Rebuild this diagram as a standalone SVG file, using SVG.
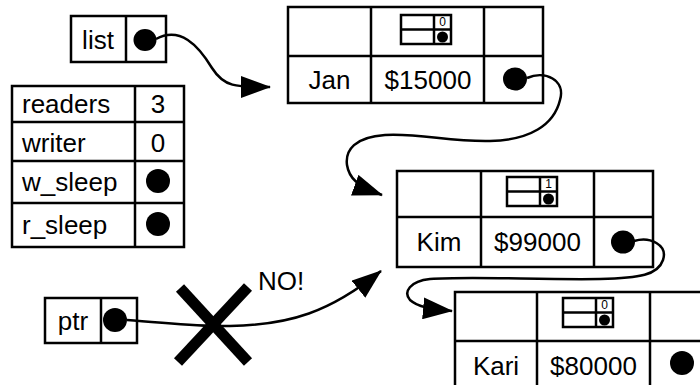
<svg xmlns="http://www.w3.org/2000/svg" width="700" height="385" viewBox="0 0 700 385">
<style>
.box{fill:#fff;stroke:#000;stroke-width:2.5}
.ln{stroke:#000;stroke-width:2.5;fill:none}
.t{font-family:"Liberation Sans",Arial,sans-serif;font-size:26px;fill:#000}
.c{text-anchor:middle}
.s{font-family:"Liberation Sans",Arial,sans-serif;font-size:12px;fill:#000;text-anchor:middle}
.dot{fill:#000}
.ic{fill:#fff;stroke:#000;stroke-width:2.5}
.conn{fill:none;stroke:#000;stroke-width:2.5;marker-end:url(#ah)}
.x{stroke:#000;stroke-width:11;fill:none}
</style>
<defs>
<marker id="ah" markerUnits="userSpaceOnUse" markerWidth="30" markerHeight="22" refX="29" refY="11" orient="auto" viewBox="0 0 30 22">
<path d="M0,0 L30,11 L0,22 Z" fill="#000"/>
</marker>
<g id="lockicon">
<rect class="ic" x="0" y="0" width="50" height="29"/>
<line class="ln" x1="0" y1="14.5" x2="50" y2="14.5"/>
<line class="ln" x1="33" y1="0" x2="33" y2="29"/>
<circle class="dot" cx="41.5" cy="22" r="5.5"/>
</g>
</defs>

<g id="list">
<rect class="box" x="71" y="16" width="95" height="46"/>
<line class="ln" x1="126" y1="16" x2="126" y2="62"/>
<text class="t c" x="98" y="49">list</text>
<ellipse class="dot" cx="145" cy="40" rx="11.5" ry="11"/>
</g>

<g id="rwlock">
<rect class="box" x="12" y="86" width="172" height="161" stroke-width="3"/>
<line class="ln" x1="12" y1="122" x2="184" y2="122"/>
<line class="ln" x1="12" y1="161" x2="184" y2="161"/>
<line class="ln" x1="12" y1="203" x2="184" y2="203"/>
<line class="ln" x1="135" y1="86" x2="135" y2="247"/>
<text class="t" x="22" y="113">readers</text>
<text class="t c" x="158" y="113">3</text>
<text class="t" x="22" y="152">writer</text>
<text class="t c" x="158" y="152">0</text>
<text class="t" x="22" y="191">w_sleep</text>
<ellipse class="dot" cx="158" cy="181" rx="12" ry="12"/>
<text class="t" x="22" y="234">r_sleep</text>
<ellipse class="dot" cx="158" cy="224" rx="12" ry="12"/>
</g>

<g id="jan">
<rect class="box" x="288" y="7" width="255" height="96"/>
<line class="ln" x1="288" y1="56" x2="543" y2="56"/>
<line class="ln" x1="371" y1="7" x2="371" y2="103"/>
<line class="ln" x1="484" y1="7" x2="484" y2="103"/>
<use href="#lockicon" x="401" y="15"/>
<text class="s" x="442.5" y="26">0</text>
<text class="t c" x="329.5" y="89">Jan</text>
<text class="t c" x="428" y="89">$15000</text>
<ellipse class="dot" cx="515" cy="79" rx="12" ry="11.5"/>
</g>

<g id="kim">
<rect class="box" x="397" y="171" width="256" height="96"/>
<line class="ln" x1="397" y1="217" x2="653" y2="217"/>
<line class="ln" x1="481" y1="171" x2="481" y2="267"/>
<line class="ln" x1="594" y1="171" x2="594" y2="267"/>
<use href="#lockicon" x="507" y="177"/>
<text class="s" x="548.5" y="188">1</text>
<text class="t c" x="439" y="251">Kim</text>
<text class="t c" x="537.5" y="251">$99000</text>
<ellipse class="dot" cx="623" cy="242" rx="12" ry="11.5"/>
</g>

<g id="kari">
<rect class="box" x="455" y="292" width="260" height="97"/>
<line class="ln" x1="455" y1="341" x2="715" y2="341"/>
<line class="ln" x1="537" y1="292" x2="537" y2="389"/>
<line class="ln" x1="650" y1="292" x2="650" y2="389"/>
<use href="#lockicon" x="563" y="298"/>
<text class="s" x="604.5" y="309">0</text>
<text class="t c" x="496" y="375">Kari</text>
<text class="t c" x="593.5" y="375">$80000</text>
<ellipse class="dot" cx="682" cy="363" rx="12" ry="12"/>
</g>

<g id="ptr">
<rect class="box" x="45" y="298" width="92" height="45"/>
<line class="ln" x1="101" y1="298" x2="101" y2="343"/>
<text class="t c" x="73" y="330">ptr</text>
<ellipse class="dot" cx="115" cy="320" rx="12" ry="12"/>
</g>

<g id="connectors">
<path class="conn" d="M156,39 C180,26 198,45 212,68 C224,87 235,87 270,87"/>
<path class="conn" d="M527,78 C545,70 566,80 560,100 C554,125 530,140 490,141 C450,142 420,133 385,135 C355,137 345,150 347,165 C349,178 357,186 382,195"/>
<path class="conn" d="M634,241 C650,236 668,245 663,260 C658,275 640,278 600,279 C540,280 470,276 430,279 C410,281 403,292 410,300 C418,307 430,309 452,311"/>
<path class="conn" d="M127,320 C170,323 200,327 230,326 C290,325 330,312 381,271"/>
</g>

<g id="no-mark">
<line class="x" x1="180" y1="288" x2="248" y2="362"/>
<line class="x" x1="248" y1="287" x2="178" y2="362"/>
<text class="t" x="258" y="290">NO!</text>
</g>
</svg>
